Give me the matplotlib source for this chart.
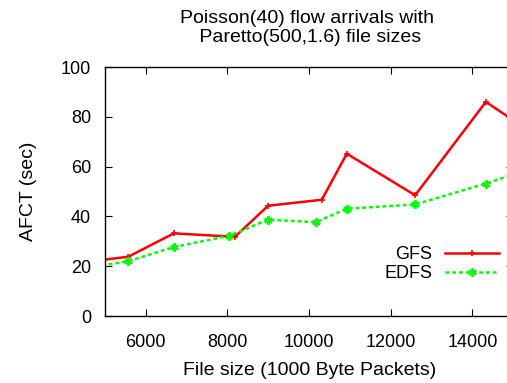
import matplotlib
matplotlib.use("Agg")
import matplotlib.pyplot as plt

# AFCT vs file size, read from gnuplot output
gfs_x = [4600, 5567, 6686, 8180, 8996, 10310, 10922, 12596, 14327, 15500]
gfs_y = [21.9, 23.8, 33.2, 31.8, 44.3, 46.7, 65.2, 48.5, 86.0, 73.2]

edfs_x = [4600, 5567, 6686, 8033, 8996, 10163, 10922, 12596, 14327, 15500]
edfs_y = [19.4, 22.0, 27.7, 32.2, 38.7, 37.7, 43.1, 44.8, 53.2, 59.6]

x_ticks = [6000, 8000, 10000, 12000, 14000]
y_ticks = [0, 20, 40, 60, 80, 100]

plt.rcParams["font.family"] = ["Liberation Sans", "DejaVu Sans"]

fig = plt.figure(figsize=(5.07, 3.83), dpi=100)
ax = fig.add_axes([0.2071, 0.1749, 0.8053, 0.650])

ax.plot(gfs_x, gfs_y, color="#ff0000", lw=1.8, marker="+", ms=5, mew=1.2,
        label="GFS")
ax.plot(edfs_x, edfs_y, color="#00ff00", lw=1.8, ls=(0, (1.5, 1.2)),
        marker=(6, 2, 0), ms=6, mew=1.5, label="EDFS")

ax.set_xlim(5000, 15000)
ax.set_ylim(0, 100)
ax.set_xticks(x_ticks)
ax.set_yticks(y_ticks)
ax.tick_params(direction="in", length=5, width=0.8, labelsize=13,
               top=True, right=True)
ax.tick_params(axis="x", pad=13)
ax.tick_params(axis="y", pad=10)
for s in ax.spines.values():
    s.set_linewidth(1.0)

ax.set_xlabel("File size (1000 Byte Packets)", fontsize=14, labelpad=8)
ax.set_ylabel("AFCT (sec)", fontsize=14, labelpad=17)

fig.text(0.606, 0.975, "Poisson(40) flow arrivals with\n Paretto(500,1.6) file sizes",
         ha="center", va="top", fontsize=14, linespacing=1.15)

ax.legend(loc="upper right", bbox_to_anchor=(1.016, 0.40),
          bbox_transform=fig.transFigure, frameon=False, markerfirst=False,
          handlelength=3.0, fontsize=13, labelspacing=0.12, handletextpad=0.7)

fig.savefig("out.png", dpi=100)
